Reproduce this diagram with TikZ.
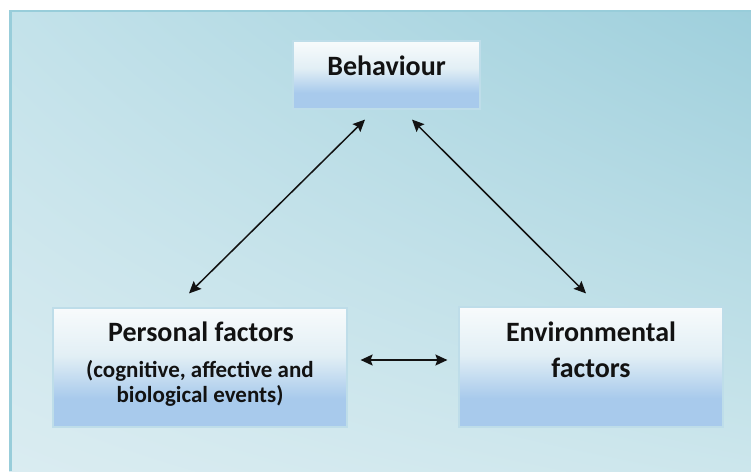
\documentclass[tikz,border=0pt]{standalone}
\usepackage{fontspec}
\setmainfont{Carlito}
\usetikzlibrary{arrows.meta,positioning,calc,shadings}

\definecolor{panelnw}{HTML}{C3E2EA}
\definecolor{panelne}{HTML}{9ECFDC}
\definecolor{panelsw}{HTML}{DAECF1}
\definecolor{panelse}{HTML}{CCE6EC}
\definecolor{paneledge}{HTML}{98CDDA}
\definecolor{boxblue}{HTML}{A8CAEC}
\definecolor{boxpale}{HTML}{E2EFF5}
\definecolor{boxwhite}{HTML}{F8FBFC}
\definecolor{boxedge}{HTML}{BEDDE9}
\definecolor{ink}{HTML}{121212}

\pgfdeclareverticalshading{factorfill}{100bp}{color(0bp)=(boxblue); color(25bp)=(boxblue);
  color(37bp)=(boxblue); color(55bp)=(boxpale); color(75bp)=(boxwhite); color(100bp)=(boxwhite)}

\begin{document}
\begin{tikzpicture}[x=1pt, y=-1pt,
    factor/.style={draw=boxedge, line width=1.2pt, shade, shading=factorfill, inner sep=0pt},
    title/.style={font=\fontsize{28}{36}\selectfont\bfseries, text=ink, inner sep=0pt, align=center},
    detail/.style={font=\fontsize{23}{25}\selectfont\bfseries, text=ink, inner sep=0pt, align=center},
    link/.style={{Stealth[length=12pt,width=11pt,inset=2pt]}-{Stealth[length=12pt,width=11pt,inset=2pt]}, line width=1.5pt, ink}]
  \useasboundingbox (0,0) rectangle (751,471);

  % background panel
  \shade[upper left=panelnw, upper right=panelne, lower left=panelsw, lower right=panelse]
    (9,10) rectangle (751,471);
  \draw[paneledge, line width=2.5pt] (10.5,471) |- (751,11.2);

  % boxes
  \node[factor, minimum width=187pt, minimum height=68pt] (behav) at (386.5,75) {};
  \node[factor, minimum width=294pt, minimum height=119pt] (pers) at (200,367.5) {};
  \node[factor, minimum width=264pt, minimum height=120pt] (env) at (591,367) {};

  % labels (multi-line nodes sit on their last baseline)
  \node[title, anchor=base] (behavlabel) at ([yshift=-35pt]behav.north) {Behaviour};
  \node[title, anchor=base] (perslabel) at ([xshift=1pt,yshift=-34pt]pers.north) {Personal factors};
  \node[detail, anchor=base] (persdetail) at ([yshift=-95pt]pers.north) {(cognitive, affective and\\biological events)};
  \node[title, anchor=base] (envlabel) at ([yshift=-71pt]env.north) {Environmental\\factors};

  % links
  \draw[link] ([xshift=-21.5pt,yshift=-10pt]behav.south) -- ([xshift=-11pt,yshift=14pt]pers.north);
  \draw[link] ([xshift=25.5pt,yshift=-10pt]behav.south) -- ([xshift=-5pt,yshift=13pt]env.north);
  \draw[link, shorten <=13pt, shorten >=11pt] ([yshift=7.5pt]pers.east) -- ([yshift=7pt]env.west);
\end{tikzpicture}
\end{document}
